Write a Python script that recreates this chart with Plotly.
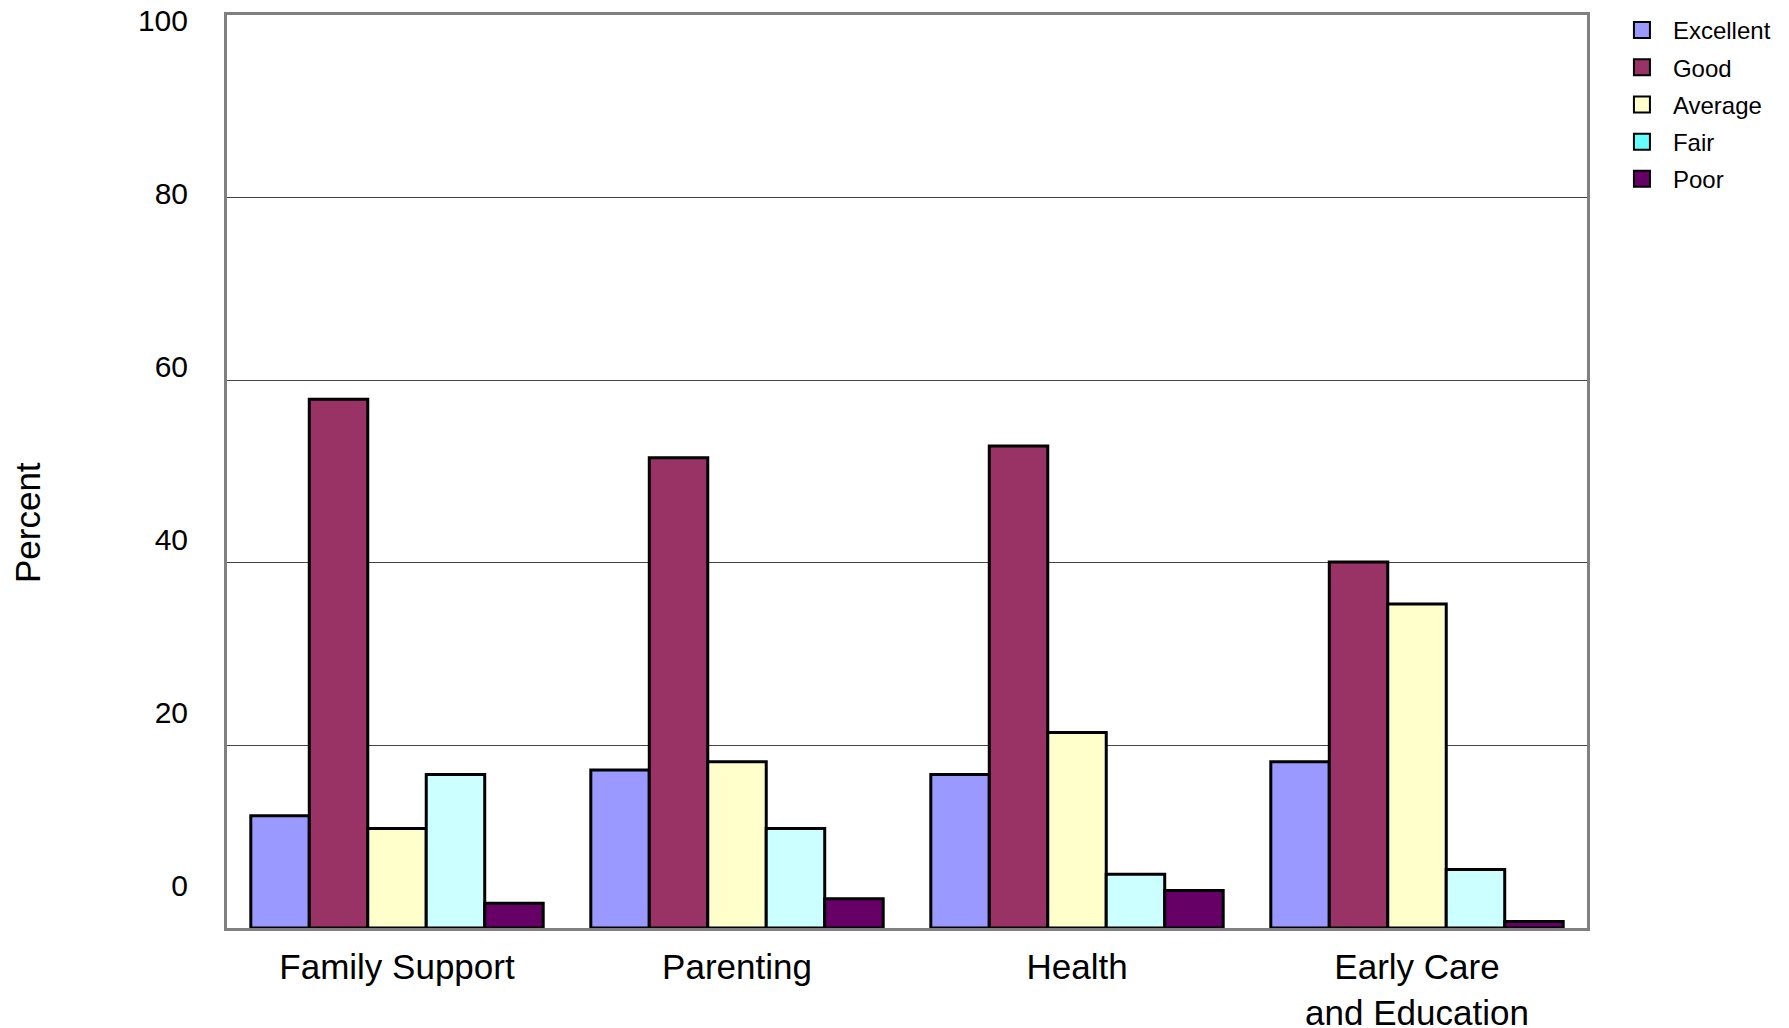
import plotly.graph_objects as go

categories = ["Family Support", "Parenting", "Health", "Early Care<br>and Education"]
series_names = ["Excellent", "Good", "Average", "Fair", "Poor"]
excellent = [12.3, 17.3, 16.8, 18.2]
good = [57.9, 51.5, 52.8, 40.1]
average = [10.9, 18.2, 21.4, 35.5]
fair = [16.8, 10.9, 5.9, 6.4]
poor = [2.7, 3.2, 4.1, 0.7]
series_values = [excellent, good, average, fair, poor]

bar_colors = ["#9999FF", "#993366", "#FFFFCC", "#CCFFFF", "#660066"]
legend_colors = ["#9999FF", "#993366", "#FFFFCC", "#66FFFF", "#660066"]

y_ticks = [0, 20, 40, 60, 80, 100]
grid_vals = [20, 40, 60, 80]

FONT = "Liberation Sans, Arial, sans-serif"

fig = go.Figure()
for name, vals, col in zip(series_names, series_values, bar_colors):
    fig.add_trace(go.Bar(
        x=categories, y=vals, name=name, showlegend=False,
        marker=dict(color=col, line=dict(color="black", width=3)),
    ))

for name, col in zip(series_names, legend_colors):
    fig.add_trace(go.Scatter(
        x=[None], y=[None], name=name, mode="markers", yaxis="y2",
        legendgroup=name,
        marker=dict(symbol="square", size=16, color=col,
                    line=dict(color="black", width=2)),
    ))

fig.update_layout(
    width=1781, height=1020,
    margin=dict(l=219, r=202, t=7, b=100, autoexpand=False),
    paper_bgcolor="white", plot_bgcolor="white",
    barmode="group", bargap=0.14, bargroupgap=0,
    font=dict(family=FONT, color="black"),
    showlegend=True,
    legend=dict(x=1.0176, y=1.0077, xanchor="left", yanchor="top",
                font=dict(size=24, family=FONT), itemwidth=52,
                traceorder="grouped", tracegroupgap=3,
                bgcolor="rgba(0,0,0,0)"),
    xaxis=dict(
        showline=True, mirror=True, linecolor="#808080", linewidth=3,
        showgrid=False, ticks="", tickfont=dict(size=35, family=FONT),
        ticklabelstandoff=6, layer="below traces", automargin=False,
        ticklabeloverflow="allow",
    ),
    yaxis=dict(
        range=[0, 100], tickvals=grid_vals, showticklabels=False,
        showgrid=True, gridcolor="#444444", gridwidth=1,
        showline=True, mirror=True, linecolor="#808080", linewidth=3,
        zeroline=False, ticks="", layer="below traces", automargin=False,
    ),
    yaxis2=dict(
        overlaying="y", anchor="x", side="left",
        range=[-4.97, 100.58], tickvals=y_ticks,
        ticktext=[str(v) for v in y_ticks],
        showgrid=False, showline=False, zeroline=False, ticks="",
        tickfont=dict(size=30, family=FONT), ticklabelstandoff=38,
        automargin=False, ticklabeloverflow="allow",
    ),
    annotations=[dict(
        text="Percent", xref="paper", yref="paper", x=-0.1463, y=0.4436,
        xanchor="center", yanchor="middle", textangle=-90, showarrow=False,
        font=dict(size=35, family=FONT, color="black"),
    )],
)

fig.write_html("out.html")
